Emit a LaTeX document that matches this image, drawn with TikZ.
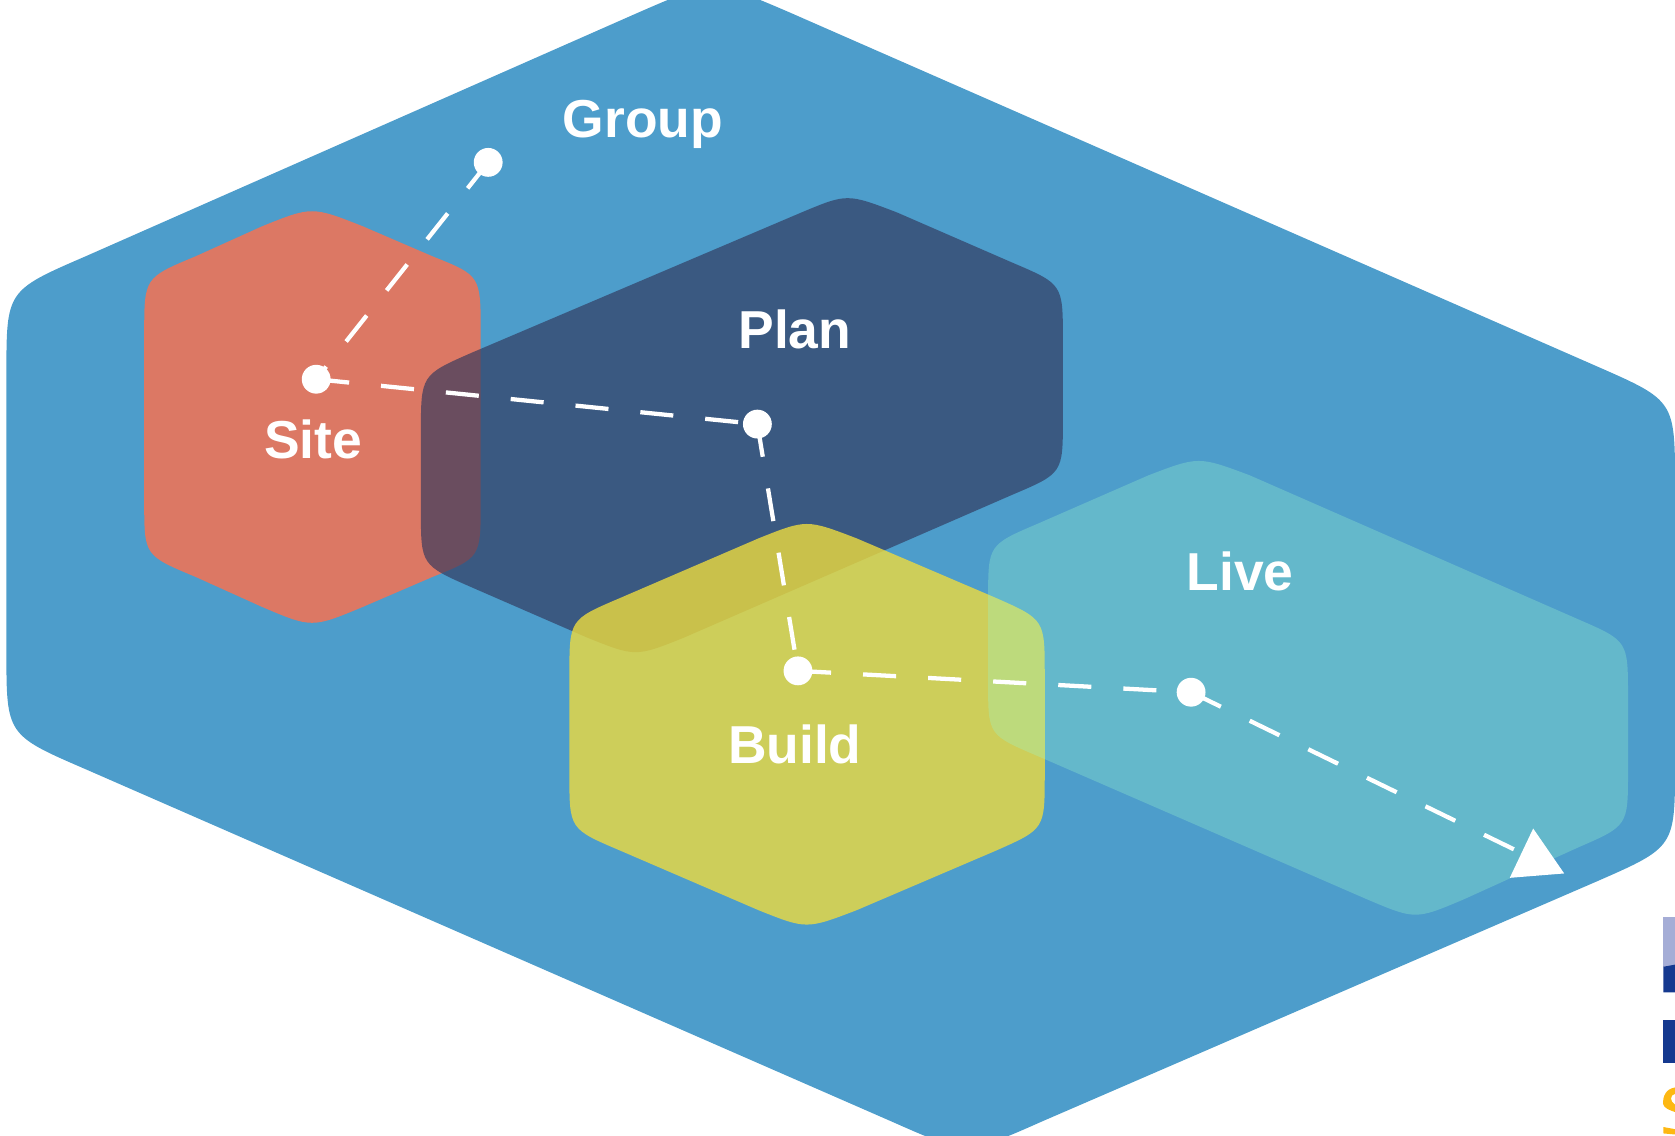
\documentclass[tikz,border=0pt]{standalone}
\usepackage{fontspec}
\setmainfont{Liberation Sans}
\usetikzlibrary{shapes.geometric}
\definecolor{groupblue}{HTML}{4D9DCB}
\definecolor{sitered}{HTML}{DC7864}
\definecolor{plannavy}{HTML}{32395E}
\definecolor{buildyellow}{HTML}{EDDB3E}
\definecolor{livecyan}{HTML}{9AF7CB}
\definecolor{logoblue}{HTML}{15398F}
\definecolor{logolight}{HTML}{A5ADD6}
\definecolor{logoyellow}{HTML}{FDB813}

\begin{document}
\begin{tikzpicture}[x=1pt,y=-1pt,
    blob_plan/.style ={fill=plannavy, fill opacity=0.67},
    blob_build/.style ={fill=buildyellow, fill opacity=0.8},
    blob_live/.style ={fill=livecyan, fill opacity=0.3},
    stage_dot/.style ={circle, fill=white, minimum size=27pt, inner sep=0pt},
    stage_label/.style ={anchor=base, text=white, font=\fontsize{50}{50}\selectfont\bfseries},
    stage_tip/.style ={regular polygon, regular polygon sides=3, fill=white,
      minimum size=59pt, inner sep=0pt, outer sep=0pt, rotate=4.6},
    line/.style ={draw=white, line width=4pt, dash pattern=on 31pt off 30pt}]
    \useasboundingbox (0,0) rectangle (1568,1063);
    % the five areas, back to front
    \fill[groupblue] (597,12) .. controls (668,-19) .. (740,12) -- (1495,343)
      .. controls (1568,375) .. (1568,455) -- (1568,715)
      .. controls (1568,793) .. (1495,825) -- (975,1050)
      .. controls (905,1081) .. (835,1050) -- (80,720)
      .. controls (6,688) .. (6,610) -- (6,350)
      .. controls (6,272) .. (80,240) -- cycle;
    \fill[sitered] (245,212) .. controls (292,193) .. (340,212) -- (405,240)
      .. controls (450,258) .. (450,312) -- (450,470)
      .. controls (450,522) .. (405,540) -- (340,568)
      .. controls (292,588) .. (245,568) -- (183,540)
      .. controls (135,520) .. (135,470) -- (135,312)
      .. controls (135,260) .. (183,240) -- cycle;
    \fill[blob_plan] (750,199) .. controls (793,181) .. (840,199) -- (948,246)
      .. controls (995,266) .. (995,318) -- (995,392)
      .. controls (995,443) .. (948,463) -- (640,597)
      .. controls (595,615) .. (550,597) -- (442,550)
      .. controls (394,529) .. (394,478) -- (394,405)
      .. controls (394,351) .. (442,330) -- cycle;
    \fill[blob_build] (710,504) .. controls (755,486) .. (802,504) -- (933,560)
      .. controls (978,580) .. (978,632) -- (978,725)
      .. controls (978,776) .. (933,796) -- (802,852)
      .. controls (755,870) .. (710,852) -- (580,796)
      .. controls (533,776) .. (533,725) -- (533,632)
      .. controls (533,580) .. (580,560) -- cycle;
    \fill[blob_live] (1075,445) .. controls (1122,427) .. (1170,445) -- (1478,580)
      .. controls (1524,600) .. (1524,652) -- (1524,722)
      .. controls (1524,773) .. (1478,793) -- (1370,842)
      .. controls (1325,861) .. (1280,842) -- (972,708)
      .. controls (925,688) .. (925,640) -- (925,560)
      .. controls (925,510) .. (972,490) -- cycle;
    % cut off logo at the right edge
    \fill[logolight] (1557,858) rectangle (1568,905);
    \fill[logoblue] (1557,905) -- (1568,903) -- (1568,929) -- (1557,929) -- cycle;
    \fill[logoblue] (1557,955) rectangle (1568,995);
    \fill[logoyellow] (1568,1018) .. controls (1560,1019) and (1556,1026) .. (1557,1034)
      .. controls (1558,1037) and (1562,1039) .. (1568,1041) -- (1568,1034)
      .. controls (1563,1031) and (1563,1025) .. (1568,1024) -- cycle;
    \fill[logoyellow] (1557,1055) -- (1568,1057) -- (1568,1062) -- (1557,1061) -- cycle;
    % stages
    \node [stage_dot] (group) at (457,152) {};
    \node [stage_dot] (site) at (296,355) {};
    \node [stage_dot] (plan) at (709,397) {};
    \node [stage_dot] (build) at (747,628) {};
    \node [stage_dot] (live) at (1115,648) {};
    \node [stage_tip] (tip) at (1437.6,805) {};
    \node [stage_label] (group_label) at (602,129) {Group};
    \node [stage_label] (plan_label) at (744,326) {Plan};
    \node [stage_label] (site_label) at (293,429) {Site};
    \node [stage_label] (build_label) at (744,715) {Build};
    \node [stage_label] (live_label) at (1161,553) {Live};
    % connecting nodes with paths
    \begin{scope}[every path/.style=line]
      \path (group.center) -- (site.center);
      \path (site.center) -- (plan.center);
      \path (plan.center) -- (build.center);
      \path (build.center) -- (live.center);
      \path (live.center) -- (tip.center);
    \end{scope}
  \end{tikzpicture}
\end{document}
